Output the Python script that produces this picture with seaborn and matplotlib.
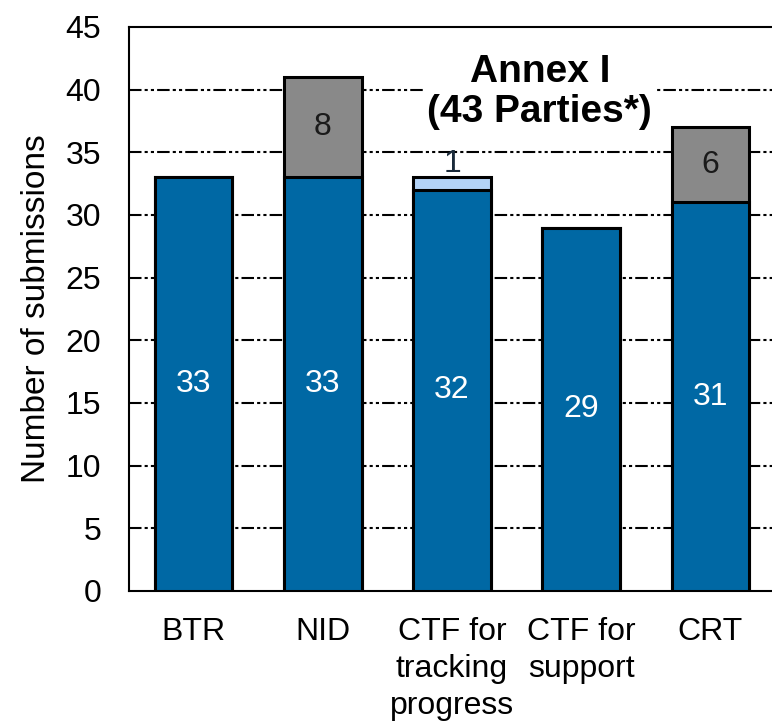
import pandas as pd
import numpy as np
import matplotlib
matplotlib.use('Agg')
import matplotlib.pyplot as plt
import seaborn as sns

# 데이터
categories = ['BTR', 'NID', 'CTF for\ntracking\nprogress', 'CTF for\nsupport', 'CRT']
base_values = [33, 33, 32, 29, 31]
top_values = [0, 8, 1, 0, 6]
top_kind = ['none', 'gray', 'light', 'none', 'gray']

BLUE = '#0068a4'
GRAY = '#898989'
LIGHT = '#b3d3f7'
top_colors = {'none': BLUE, 'gray': GRAY, 'light': LIGHT}

sns.set_style('white')
plt.rcParams['font.family'] = ['Liberation Sans', 'DejaVu Sans']
plt.rcParams['text.color'] = 'black'
plt.rcParams['xtick.color'] = 'black'
plt.rcParams['ytick.color'] = 'black'
plt.rcParams['axes.labelcolor'] = 'black'

df = pd.DataFrame({'category': categories, 'base': base_values, 'top': top_values, 'kind': top_kind})
df['total'] = df['base'] + df['top']

fig = plt.figure(figsize=(7.72, 7.25), dpi=100)
ax = fig.add_axes([129 / 772, 1 - 591 / 725, 646 / 772, 564 / 725])

# 전체 높이 (상단 구간 색)
sns.barplot(data=df, x='category', y='total', hue='kind', palette=top_colors, dodge=False,
            width=0.6, edgecolor='black', linewidth=2.2, legend=False, saturation=1, ax=ax, zorder=2)
# 하단 구간
sns.barplot(data=df, x='category', y='base', color=BLUE, width=0.6, saturation=1,
            edgecolor='black', linewidth=2.2, ax=ax, zorder=3)

ax.set_xlim(-0.5, 4.5)
ax.set_ylim(0, 45)
ax.set_yticks(range(0, 46, 5))
ax.tick_params(axis='y', length=0, labelsize=23, pad=20)
ax.tick_params(axis='x', length=0, labelsize=23, pad=19)
for lbl in ax.get_xticklabels():
    lbl.set_linespacing(1.3)
ax.set_xlabel('')
ax.set_ylabel('Number of submissions', fontsize=24, labelpad=10)

for y in range(5, 45, 5):
    ax.axhline(y, color='black', linewidth=1.5, dashes=(6, 1.5, 1.5, 1.5, 1.5, 1.5), zorder=1)

for s in ['left', 'top', 'bottom']:
    ax.spines[s].set_linewidth(1.5)
    ax.spines[s].set_color('black')
ax.spines['right'].set_visible(False)

# 값 라벨
for i, row in df.iterrows():
    ax.text(i, row['base'] / 2, str(row['base']), ha='center', va='center', color='white', fontsize=23, zorder=5)
    if row['kind'] == 'gray':
        ax.text(i, row['base'] + row['top'] / 2, str(row['top']), ha='center', va='center',
                color='#1a1a1a', fontsize=23, zorder=5)
    elif row['kind'] == 'light':
        ax.text(i, row['total'] - 0.1, str(row['top']), ha='center', va='bottom',
                color='#1a2a3a', fontsize=23, zorder=5)

ax.text(2.68, 39.8, 'Annex I\n(43 Parties*)', ha='center', va='center', fontsize=28,
        fontweight='bold', linespacing=1.15, zorder=6,
        bbox=dict(facecolor='white', edgecolor='none', pad=2))

fig.savefig('out.png', dpi=100)
